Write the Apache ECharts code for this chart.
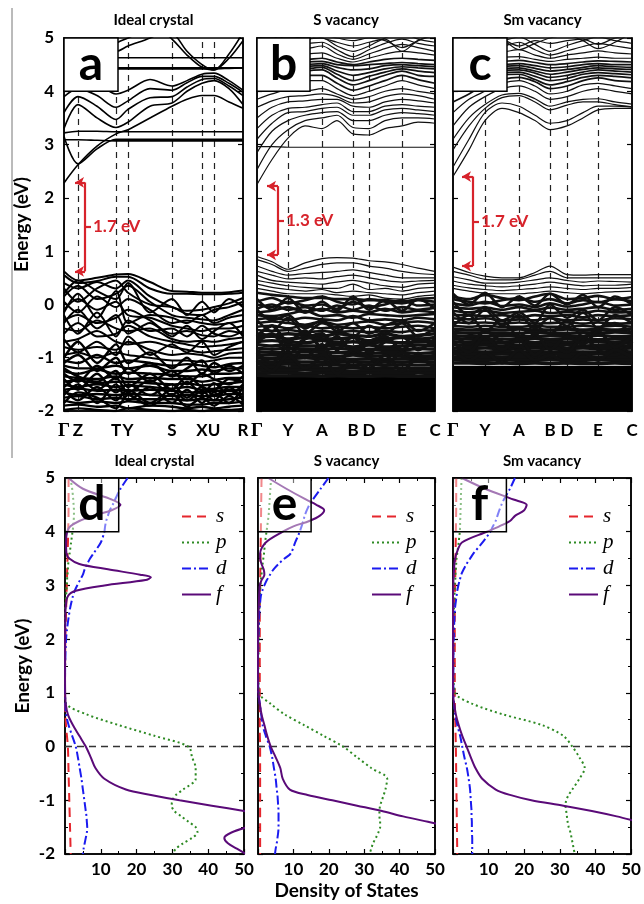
<!DOCTYPE html>
<html><head><meta charset="utf-8">
<script src="https://cdn.jsdelivr.net/npm/echarts@6/dist/echarts.min.js"></script>
<style>html,body{margin:0;padding:0;background:#fff}#c{width:644px;height:904px}</style>
</head><body><div id="c"></div>
<script>
// ---------------- band structure data ----------------
const KS_A = [0,14,33,52,64,86,108,123,138,150,165,179];
const KPOS_A = [0,14,52,64,108,138,150,179];
const KLAB_A = ['Γ','Z','T','Y','S','X','U','R'];
const KS_B = [0,15,31,48,65,80,96,112,128,145,161,178];
const KPOS_B = [0,31,65,96,112,145,178];
const KS_C = [0,16,32,49,66,82,97,114,130,145,162,179];
const KPOS_C = [0,32,66,97,114,145,179];
const KLAB_BC = ['Γ','Y','A','B','D','E','C'];

const CB_A = [
 [2.28,2.62,2.97,3.2,3.28,3.5,3.72,3.85,3.92,3.92,3.8,3.68],
 [3.15,2.64,2.92,3.1,3.1,3.1,3.1,3.1,3.1,3.1,3.1,3.1],
 [3.09,3.09,3.08,3.07,3.07,3.07,3.07,3.07,3.07,3.07,3.07,3.07],
 [3.22,3.25,3.25,3.24,3.24,3.24,3.24,3.24,3.24,3.24,3.24,3.24],
 [3.3,3.75,3.5,3.32,3.42,3.72,3.78,4.0,4.15,4.2,4.05,3.75],
 [3.6,3.9,3.72,3.47,3.66,3.88,3.9,4.08,4.22,4.24,4.1,3.92],
 [3.9,4.05,3.92,3.7,3.82,4.05,4.02,4.16,4.28,4.28,4.15,3.98],
 [4.05,4.25,4.15,3.95,4.02,4.22,4.1,4.2,4.32,4.34,4.2,4.02],
 [4.6,4.55,4.5,4.44,4.44,4.44,4.44,4.44,4.44,4.44,4.44,4.44],
 [4.7,4.6,4.52,4.42,4.42,4.42,4.42,4.42,4.42,4.42,4.43,4.44],
 [4.9,4.85,4.75,4.63,4.63,4.63,4.63,4.63,4.63,4.63,4.63,4.63],
 [5.3,5.2,5.1,5.05,5.1,5.15,5.1,4.75,4.5,4.4,4.62,4.95],
 [5.5,5.4,5.2,5.1,5.2,5.3,4.98,4.68,4.45,4.4,4.7,5.1],
 [4.5,4.7,4.82,4.75,4.85,5.0,5.2,5.3,5.2,5.2,5.3,5.4],
 [4.3,4.45,4.6,4.9,5.0,5.2,5.4,5.5,5.4,5.4,5.5,5.5]
];
const VB_A = [
 [0.62,0.45,0.5,0.56,0.57,0.42,0.25,0.24,0.22,0.22,0.23,0.26],
 [0.55,0.4,0.44,0.52,0.52,0.3,0.2,0.2,0.19,0.19,0.2,0.22],
 [0.4,0.3,0.42,0.3,0.45,0.15,-0.05,-0.12,-0.1,-0.05,0.02,0.12],
 [0.3,0.05,0.3,0.45,0.22,0.0,-0.05,-0.18,-0.2,-0.1,-0.05,0.05],
 [0.15,0.35,0.1,0.2,0.35,0.05,-0.2,-0.25,-0.28,-0.3,-0.2,-0.1],
 [0.05,-0.15,0.15,-0.05,0.1,-0.1,-0.35,-0.3,-0.35,-0.38,-0.35,-0.3],
 [-0.1,0.1,-0.1,0.05,-0.2,-0.25,-0.4,-0.45,-0.5,-0.45,-0.45,-0.4],
 [-0.3,-0.2,-0.35,-0.25,-0.1,-0.3,-0.55,-0.5,-0.58,-0.6,-0.5,-0.55],
 [-0.45,-0.5,-0.3,-0.45,-0.5,-0.45,-0.65,-0.7,-0.68,-0.7,-0.65,-0.62],
 [-0.55,-0.35,-0.6,-0.55,-0.4,-0.6,-0.7,-0.75,-0.8,-0.78,-0.75,-0.7],
 [-0.7,-0.65,-0.5,-0.7,-0.75,-0.7,-0.8,-0.85,-0.9,-0.88,-0.85,-0.82],
 [-0.8,-0.85,-0.8,-0.85,-0.7,-0.85,-0.95,-0.92,-0.95,-1.0,-0.92,-0.9],
 [-0.95,-0.9,-1.0,-0.9,-0.95,-1.0,-1.05,-1.05,-1.08,-1.05,-1.0,-1.0],
 [-1.05,-1.1,-0.95,-1.1,-1.05,-1.1,-1.15,-1.12,-1.15,-1.18,-1.12,-1.1],
 [-1.15,-1.2,-1.2,-1.15,-1.2,-1.15,-1.25,-1.25,-1.22,-1.25,-1.2,-1.2],
 [-1.25,-1.3,-1.22,-1.3,-1.28,-1.3,-1.32,-1.35,-1.35,-1.3,-1.3,-1.28],
 [-1.35,-1.38,-1.4,-1.35,-1.4,-1.38,-1.4,-1.4,-1.45,-1.42,-1.38,-1.38],
 [-1.45,-1.42,-1.48,-1.45,-1.45,-1.48,-1.5,-1.48,-1.52,-1.5,-1.48,-1.45],
 [-1.5,-1.55,-1.5,-1.55,-1.52,-1.55,-1.58,-1.55,-1.6,-1.58,-1.55,-1.55],
 [-1.6,-1.58,-1.62,-1.6,-1.62,-1.6,-1.62,-1.65,-1.65,-1.62,-1.62,-1.6],
 [-1.65,-1.7,-1.68,-1.7,-1.68,-1.7,-1.72,-1.7,-1.72,-1.72,-1.68,-1.68],
 [-1.75,-1.72,-1.78,-1.75,-1.78,-1.78,-1.78,-1.8,-1.78,-1.8,-1.78,-1.75],
 [-1.8,-1.85,-1.82,-1.85,-1.82,-1.85,-1.85,-1.88,-1.88,-1.85,-1.85,-1.82],
 [-1.9,-1.88,-1.92,-1.9,-1.95,-1.9,-1.92,-1.95,-1.92,-1.95,-1.92,-1.9],
 [-1.98,-1.95,-1.98,-2.0,-1.95,-1.98,-2.0,-1.98,-2.0,-1.98,-1.98,-1.96],
 [-0.2,-0.55,-0.15,-0.6,-0.3,-0.5,-0.45,-0.6,-0.4,-0.55,-0.6,-0.5],
 [-1.0,-0.7,-1.1,-0.75,-1.1,-0.9,-1.2,-1.0,-1.3,-1.1,-1.25,-1.15],
 [-1.4,-1.6,-1.3,-1.65,-1.5,-1.7,-1.5,-1.75,-1.55,-1.7,-1.6,-1.75],
 [-1.7,-1.5,-1.85,-1.5,-1.8,-1.55,-1.85,-1.6,-1.85,-1.65,-1.85,-1.55],
 [-0.35,-0.1,-0.45,-0.2,-0.55,-0.35,-0.6,-0.4,-0.65,-0.5,-0.35,-0.6],
 [-0.65,-0.9,-0.7,-0.95,-0.6,-0.95,-0.75,-0.9,-0.7,-0.95,-0.8,-0.7],
 [-1.1,-0.95,-1.25,-1.0,-1.3,-1.1,-1.35,-1.2,-1.05,-1.3,-1.15,-1.3],
 [-1.3,-1.45,-1.15,-1.4,-1.2,-1.45,-1.25,-1.5,-1.3,-1.4,-1.5,-1.35],
 [-1.55,-1.4,-1.6,-1.38,-1.65,-1.42,-1.7,-1.45,-1.68,-1.48,-1.7,-1.5],
 [-1.85,-1.65,-1.75,-1.95,-1.7,-1.9,-1.68,-1.92,-1.75,-1.9,-1.72,-1.88],
 [0.2,0.45,0.25,0.1,0.4,-0.15,0.1,-0.2,0.05,-0.15,0.1,-0.05],
 [-0.15,0.2,-0.25,0.25,-0.35,-0.2,-0.25,-0.35,-0.2,-0.35,-0.25,-0.2],
 [-1.2,-1.35,-1.45,-1.25,-1.55,-1.3,-1.6,-1.35,-1.55,-1.6,-1.4,-1.45],
 [-1.6,-1.8,-1.55,-1.8,-1.6,-1.85,-1.6,-1.8,-1.62,-1.8,-1.55,-1.8]
];
const CB_B = [
 [2.96,2.96,2.95,2.95,2.95,2.95,2.95,2.95,2.95,2.95,2.95,2.95],
 [2.25,2.72,3.12,3.35,3.3,3.45,3.2,3.18,3.3,3.35,3.42,3.4],
 [2.53,3.0,3.28,3.45,3.5,3.55,3.32,3.3,3.45,3.5,3.5,3.48],
 [2.85,3.25,3.45,3.55,3.6,3.62,3.45,3.45,3.55,3.6,3.58,3.55],
 [3.1,3.4,3.6,3.62,3.68,3.7,3.55,3.55,3.65,3.68,3.65,3.62],
 [3.3,3.55,3.68,3.7,3.75,3.78,3.62,3.62,3.72,3.75,3.72,3.7],
 [3.5,3.7,3.8,3.82,3.85,3.85,3.72,3.7,3.8,3.85,3.82,3.78],
 [3.7,3.82,3.9,3.92,3.95,3.9,3.78,3.8,3.9,3.95,3.92,3.85],
 [3.85,3.95,4.02,4.0,4.05,3.95,3.85,3.9,4.0,4.05,4.0,3.95],
 [4.0,4.05,4.15,4.2,4.2,4.05,3.92,4.0,4.1,4.2,4.12,4.05],
 [4.1,4.15,4.25,4.3,4.3,4.15,4.02,4.1,4.2,4.3,4.22,4.15],
 [4.22,4.28,4.32,4.38,4.4,4.25,4.12,4.2,4.3,4.38,4.3,4.28],
 [4.3,4.35,4.38,4.42,4.45,4.32,4.2,4.28,4.36,4.42,4.38,4.35],
 [4.35,4.4,4.42,4.46,4.48,4.38,4.3,4.35,4.42,4.46,4.44,4.42],
 [4.4,4.45,4.48,4.5,4.52,4.45,4.4,4.42,4.48,4.5,4.48,4.46],
 [4.48,4.5,4.52,4.55,4.56,4.5,4.48,4.5,4.52,4.54,4.52,4.5],
 [4.55,4.6,4.62,4.6,4.62,4.55,4.5,4.55,4.6,4.62,4.6,4.58],
 [4.62,4.65,4.75,4.7,4.72,4.62,4.55,4.62,4.7,4.75,4.72,4.68],
 [4.7,4.75,4.85,4.8,4.85,4.7,4.6,4.7,4.8,4.88,4.82,4.75],
 [4.8,4.85,4.95,4.9,4.92,4.78,4.65,4.78,4.9,4.98,4.9,4.85],
 [4.9,4.92,5.05,4.98,5.0,4.85,4.75,4.85,5.0,5.1,4.98,4.92],
 [5.0,5.05,5.1,5.05,5.0,4.92,4.85,4.92,4.98,4.75,4.95,5.05],
 [5.1,5.05,4.88,4.95,5.05,5.0,4.95,5.0,4.95,4.82,4.95,5.1]
];
const VB_B = [
 [0.9,0.8,0.66,0.78,0.86,0.88,0.87,0.82,0.8,0.75,0.68,0.62],
 [0.84,0.75,0.62,0.68,0.75,0.78,0.78,0.72,0.68,0.62,0.58,0.56],
 [0.72,0.62,0.55,0.58,0.6,0.62,0.65,0.6,0.55,0.5,0.5,0.5],
 [0.62,0.55,0.48,0.5,0.48,0.52,0.55,0.5,0.45,0.42,0.44,0.45],
 [0.55,0.45,0.42,0.4,0.38,0.42,0.45,0.4,0.35,0.32,0.38,0.4],
 [0.45,0.4,0.35,0.32,0.3,0.3,0.38,0.28,0.3,0.25,0.3,0.32],
 [0.38,0.32,0.28,0.25,0.28,0.22,0.25,0.22,0.2,0.18,0.22,0.25],
 [0.3,0.25,0.2,0.2,0.2,0.18,0.15,0.18,0.12,0.1,0.15,0.18],
 [0.22,0.18,0.15,0.12,0.12,0.1,0.1,0.08,0.08,0.05,0.1,0.12],
 [0.05,0.12,0.02,0.08,0.15,0.05,0.0,0.1,0.05,0.02,0.08,0.05],
 [0.0,-0.05,0.05,-0.02,0.0,-0.08,0.05,-0.05,0.0,0.08,-0.02,0.0],
 [-0.08,0.0,-0.1,-0.05,-0.12,-0.02,-0.1,-0.02,-0.12,-0.05,-0.1,-0.06],
 [-0.15,-0.12,-0.05,-0.15,-0.08,-0.15,-0.12,-0.15,-0.08,-0.15,-0.12,-0.15],
 [-0.2,-0.22,-0.18,-0.12,-0.22,-0.2,-0.25,-0.18,-0.2,-0.22,-0.2,-0.18],
 [-0.28,-0.25,-0.3,-0.25,-0.28,-0.3,-0.22,-0.3,-0.28,-0.3,-0.25,-0.28],
 [-0.35,-0.32,-0.35,-0.38,-0.32,-0.38,-0.35,-0.32,-0.38,-0.35,-0.32,-0.35],
 [-0.42,-0.4,-0.45,-0.4,-0.45,-0.42,-0.45,-0.42,-0.45,-0.42,-0.4,-0.45],
 [-0.48,-0.5,-0.48,-0.52,-0.5,-0.52,-0.5,-0.52,-0.5,-0.52,-0.48,-0.5],
 [-0.55,-0.58,-0.55,-0.58,-0.6,-0.55,-0.58,-0.6,-0.55,-0.6,-0.58,-0.55],
 [-0.62,-0.6,-0.65,-0.62,-0.65,-0.65,-0.62,-0.68,-0.65,-0.62,-0.65,-0.62],
 [-0.7,-0.68,-0.7,-0.72,-0.68,-0.72,-0.7,-0.72,-0.7,-0.72,-0.7,-0.7],
 [-0.75,-0.78,-0.75,-0.78,-0.78,-0.76,-0.8,-0.76,-0.8,-0.78,-0.76,-0.78],
 [-0.82,-0.84,-0.82,-0.84,-0.85,-0.82,-0.85,-0.84,-0.84,-0.85,-0.83,-0.84],
 [-0.88,-0.9,-0.9,-0.88,-0.9,-0.9,-0.9,-0.92,-0.9,-0.9,-0.92,-0.9],
 [-0.95,-0.95,-0.96,-0.95,-0.96,-0.97,-0.95,-0.97,-0.96,-0.96,-0.97,-0.96],
 [-1.0,-1.02,-1.02,-1.0,-1.02,-1.02,-1.03,-1.02,-1.03,-1.02,-1.02,-1.02],
 [-1.06,-1.08,-1.07,-1.08,-1.08,-1.07,-1.08,-1.08,-1.08,-1.08,-1.07,-1.08],
 [-1.12,-1.13,-1.12,-1.14,-1.13,-1.13,-1.14,-1.13,-1.14,-1.13,-1.14,-1.13],
 [-1.18,-1.18,-1.19,-1.18,-1.19,-1.19,-1.18,-1.2,-1.19,-1.19,-1.2,-1.19],
 [-1.23,-1.24,-1.24,-1.23,-1.24,-1.24,-1.25,-1.24,-1.24,-1.25,-1.24,-1.24],
 [-1.28,-1.29,-1.29,-1.3,-1.29,-1.3,-1.3,-1.29,-1.3,-1.3,-1.29,-1.3],
 [-1.33,-1.34,-1.34,-1.34,-1.35,-1.34,-1.35,-1.35,-1.34,-1.35,-1.35,-1.35],
 [-0.1,-0.3,-0.2,-0.45,-0.3,-0.5,-0.35,-0.55,-0.4,-0.3,-0.5,-0.35],
 [-0.6,-0.4,-0.7,-0.5,-0.8,-0.6,-0.9,-0.7,-0.6,-0.85,-0.65,-0.75],
 [-0.9,-1.1,-0.8,-1.0,-0.75,-1.1,-0.85,-1.0,-1.15,-0.9,-1.05,-0.95],
 [0.1,-0.1,0.12,-0.15,0.05,-0.12,0.15,-0.1,0.08,-0.12,0.1,-0.08],
 [-0.3,-0.5,-0.25,-0.55,-0.35,-0.45,-0.6,-0.4,-0.55,-0.35,-0.6,-0.45],
 [-0.7,-0.55,-0.85,-0.65,-0.55,-0.85,-0.6,-0.9,-0.7,-0.6,-0.85,-0.65],
 [-1.05,-1.25,-0.95,-1.2,-1.0,-1.3,-1.05,-1.2,-0.95,-1.25,-1.0,-1.2]
];
const CB_C = [
 [2.4,2.9,3.45,3.68,3.6,3.45,3.28,3.35,3.5,3.65,3.68,3.68],
 [2.58,3.1,3.6,3.78,3.72,3.55,3.4,3.45,3.6,3.72,3.72,3.7],
 [2.9,3.35,3.68,3.88,3.92,3.8,3.65,3.74,3.8,3.8,3.75,3.71],
 [3.1,3.5,3.75,3.93,3.96,3.86,3.72,3.8,3.85,3.86,3.8,3.76],
 [3.35,3.7,3.9,4.05,4.1,4.0,3.85,3.9,4.0,4.05,4.0,3.95],
 [3.6,3.85,4.0,4.15,4.2,4.1,3.95,4.0,4.12,4.15,4.1,4.05],
 [3.8,3.95,4.12,4.22,4.26,4.18,4.05,4.1,4.2,4.25,4.2,4.18],
 [4.05,4.1,4.2,4.3,4.32,4.22,4.12,4.18,4.26,4.3,4.28,4.25],
 [4.15,4.18,4.26,4.34,4.36,4.28,4.2,4.24,4.32,4.35,4.33,4.31],
 [4.22,4.26,4.3,4.38,4.4,4.34,4.26,4.3,4.36,4.4,4.38,4.36],
 [4.3,4.32,4.36,4.42,4.44,4.38,4.32,4.36,4.41,4.44,4.42,4.41],
 [4.36,4.38,4.42,4.46,4.48,4.43,4.38,4.41,4.45,4.48,4.46,4.45],
 [4.42,4.45,4.48,4.5,4.52,4.48,4.44,4.46,4.5,4.52,4.5,4.5],
 [4.5,4.52,4.55,4.56,4.58,4.54,4.5,4.52,4.55,4.57,4.56,4.55],
 [4.58,4.6,4.65,4.64,4.65,4.6,4.56,4.6,4.62,4.64,4.62,4.62],
 [4.66,4.7,4.76,4.74,4.78,4.68,4.62,4.68,4.72,4.76,4.72,4.7],
 [4.75,4.8,4.88,4.85,4.92,4.78,4.68,4.76,4.84,4.9,4.85,4.8],
 [4.85,4.9,4.98,4.95,5.02,4.88,4.75,4.86,4.95,5.02,4.95,4.9],
 [4.95,4.98,5.05,4.98,4.85,4.95,4.9,4.95,4.98,4.88,5.0,5.05],
 [5.05,5.0,4.92,4.95,4.78,4.9,5.0,5.05,4.95,4.8,4.92,5.1]
];
const VB_C = [
 [0.7,0.6,0.53,0.5,0.5,0.6,0.72,0.56,0.55,0.56,0.56,0.56],
 [0.62,0.55,0.47,0.46,0.47,0.55,0.62,0.5,0.5,0.5,0.5,0.5],
 [0.52,0.46,0.4,0.4,0.42,0.46,0.5,0.45,0.42,0.44,0.43,0.42],
 [0.44,0.38,0.35,0.33,0.35,0.38,0.42,0.38,0.35,0.36,0.36,0.38],
 [0.36,0.31,0.28,0.26,0.28,0.3,0.33,0.3,0.28,0.3,0.3,0.32],
 [0.3,0.25,0.21,0.2,0.2,0.22,0.25,0.22,0.2,0.22,0.24,0.25],
 [0.15,0.1,0.18,0.12,0.08,0.15,0.2,0.1,0.12,0.16,0.1,0.14],
 [0.1,0.05,0.02,0.08,0.12,0.05,0.1,0.02,0.08,0.04,0.1,0.06],
 [0.02,-0.02,0.05,-0.03,0.0,-0.05,0.02,-0.04,0.0,0.05,-0.02,0.0],
 [-0.05,-0.08,-0.06,-0.1,-0.05,-0.1,-0.06,-0.1,-0.08,-0.05,-0.1,-0.08],
 [-0.12,-0.15,-0.12,-0.16,-0.14,-0.12,-0.16,-0.14,-0.16,-0.12,-0.15,-0.14],
 [-0.2,-0.2,-0.22,-0.2,-0.24,-0.2,-0.22,-0.2,-0.24,-0.2,-0.22,-0.2],
 [-0.26,-0.28,-0.26,-0.3,-0.28,-0.3,-0.26,-0.3,-0.28,-0.3,-0.26,-0.28],
 [-0.33,-0.35,-0.34,-0.36,-0.34,-0.36,-0.35,-0.34,-0.36,-0.34,-0.36,-0.35],
 [-0.4,-0.42,-0.4,-0.42,-0.42,-0.4,-0.42,-0.42,-0.4,-0.42,-0.4,-0.42],
 [-0.46,-0.48,-0.47,-0.48,-0.46,-0.48,-0.48,-0.46,-0.48,-0.47,-0.48,-0.46],
 [-0.52,-0.54,-0.53,-0.54,-0.54,-0.52,-0.54,-0.54,-0.53,-0.54,-0.52,-0.54],
 [-0.58,-0.6,-0.6,-0.58,-0.6,-0.6,-0.59,-0.6,-0.6,-0.58,-0.6,-0.6],
 [-0.64,-0.65,-0.66,-0.65,-0.66,-0.64,-0.66,-0.65,-0.66,-0.66,-0.65,-0.66],
 [-0.7,-0.71,-0.71,-0.72,-0.7,-0.72,-0.71,-0.72,-0.71,-0.7,-0.72,-0.71],
 [-0.76,-0.77,-0.76,-0.78,-0.77,-0.77,-0.78,-0.76,-0.78,-0.77,-0.77,-0.78],
 [-0.82,-0.83,-0.82,-0.83,-0.83,-0.82,-0.83,-0.83,-0.82,-0.83,-0.83,-0.82],
 [-0.88,-0.88,-0.89,-0.88,-0.89,-0.88,-0.89,-0.88,-0.89,-0.89,-0.88,-0.89],
 [-0.93,-0.94,-0.94,-0.93,-0.94,-0.94,-0.93,-0.94,-0.94,-0.93,-0.94,-0.94],
 [-0.99,-0.99,-1.0,-0.99,-1.0,-0.99,-1.0,-1.0,-0.99,-1.0,-0.99,-1.0],
 [-1.04,-1.05,-1.05,-1.04,-1.05,-1.05,-1.04,-1.05,-1.05,-1.04,-1.05,-1.05],
 [-1.1,-1.1,-1.11,-1.1,-1.11,-1.1,-1.11,-1.1,-1.11,-1.11,-1.1,-1.11],
 [0.05,-0.2,-0.05,-0.3,-0.15,-0.35,0.0,-0.25,-0.1,-0.3,-0.05,-0.2],
 [-0.4,-0.2,-0.5,-0.3,-0.6,-0.4,-0.55,-0.3,-0.6,-0.45,-0.35,-0.55],
 [-0.7,-0.9,-0.6,-0.85,-0.65,-0.95,-0.75,-0.9,-0.6,-0.85,-0.95,-0.7],
 [0.2,0.0,0.22,-0.05,0.15,-0.02,0.2,0.0,0.18,-0.05,0.15,0.0],
 [-0.15,-0.35,-0.1,-0.4,-0.2,-0.45,-0.25,-0.4,-0.15,-0.45,-0.2,-0.35],
 [-0.55,-0.75,-0.5,-0.7,-0.8,-0.55,-0.85,-0.6,-0.75,-0.5,-0.8,-0.6],
 [-0.85,-1.05,-0.9,-1.1,-0.85,-1.05,-0.95,-1.1,-0.9,-1.05,-0.85,-1.0]
];
// band gaps: [CBM, VBM] and labels
const GAP_A = [2.29, 0.62], GAP_B = [2.22, 0.93], GAP_C = [2.40, 0.72];
const GAP_LABELS = ['1.7 eV', '1.3 eV', '1.7 eV'];
// fully filled (unresolvable) band region
const SOLID_B = [-2.0, -1.36], SOLID_C = [-2.0, -1.15];

// ---------------- DOS data ----------------
const E_GRID = [5,4.8,4.6,4.5,4.4,4.3,4.2,4.1,4.0,3.8,3.6,3.5,3.4,3.3,3.2,3.15,3.1,3.0,2.9,2.8,2.6,2.4,2.2,2.0,1.5,1.0,0.8,0.6,0.4,0.2,0,-0.2,-0.4,-0.6,-0.8,-0.9,-1.0,-1.1,-1.2,-1.3,-1.4,-1.5,-1.6,-1.7,-1.8,-1.9,-2.0];
const S_GRID = [5,4.5,4,3.5,3,2.5,2,1,0.6,0.3,0,-0.5,-1,-1.5,-2];
const D_S = [1.0,1.0,0.9,0.7,0.5,0.3,0.1,0,0.1,0.4,0.8,1.0,1.2,1.4,1.6];
const D_P = [1.5,2.0,2.3,2.4,2.5,2.5,2.4,2.3,2.1, 1.7,1.3,1.1,0.9,0.8,0.7,0.6,0.6,0.5, 0.4,0.3,0.1,0.05,0,0, 0,0,0.3,6,15,25,34.5, 35.5,36.5,36.5,33,31,30, 29.8,30.5,32.5,34.5,36.5,37,35.5,33,31,30];
const D_D = [17.5,15.5,14,13.3,12.5,12,11.5,11.2,11, 10,8,7,6.2,5.5,5,4.6,4.2,3.4, 2.7,2.2,1.5,1.0,0.6,0.3, 0.05,0,0.1,0.3,1.0,2.0,3.0, 3.6,4.1,4.6,5.0,5.2,5.4, 5.6,5.8,6.0,6.1,6.2,6.1,5.8,5.5,5.2,5.0];
const D_F = [1.0,5,13,15.5,13,8,4,1.5,0.6, 0.3,0.4,1.2,4,12,21,24,22.5,11, 3,0.8,0.2,0.1,0.05,0, 0,0.05,0.2,0.8,2.2,4,5.8, 7.2,8.5,11,17,24,32, 41,50,58,57,51,46.5,44.5,45.5,48,50.5];
const E_S = [1.0,0.9,0.8,0.7,0.6,0.5,0.5,0.5,0.5,0.5,0.6,0.6,0.6,0.6,0.6];
const E_P = [3.7,3.5,3.3,3.2,3.1,3.0,2.8,2.6,2.4, 2.0,1.7,1.5,1.3,1.1,1.0,0.9,0.8,0.7, 0.6,0.5,0.4,0.3,0.3,0.2, 0.1,0.3,3.5,7.5,13,18.5,24, 28,32,36.5,36,35.5,35, 34.5,34.3,34.3,34.5,34.5,34,33.3,32.5,32,31.5];
const E_D = [19.9,17.7,15.5,14.5,13.8,13.2,12.8,12.3,11.8, 10.5,9.3,7.5,5.8,4.4,3.4,3.0,2.5,1.8, 1.2,0.8,0.5,0.3,0.2,0.1, 0,0.1,0.5,0.9,1.3,2.2,3.3, 4.0,4.5,5.0,5.3,5.5,5.6, 5.7,5.8,5.8,5.8,5.8,5.7,5.5,5.3,5.0,4.8];
const E_F = [2.9,8,13.5,16.5,18.7,17.5,14.5,10,7, 2.2,0.6,0.6,1.0,1.6,1.8,1.5,1.0,0.5, 0.4,0.3,0.2,0.1,0.05,0, 0,0.1,0.5,1.0,1.8,2.6,3.6, 5.0,6.3,7.0,9,14,21, 28,35,41,48,55,60,62,64,66,68];
const F_S = [0.9,0.9,0.8,0.7,0.6,0.5,0.5,0.5,0.6,0.7,0.8,0.9,1.0,1.1,1.2];
const F_P = [2.4,2.3,2.2,2.2,2.1,2.1,2.0,2.0,1.9, 1.6,1.2,1.0,0.9,0.8,0.7,0.7,0.6,0.5, 0.5,0.4,0.3,0.2,0.2,0.1, 0.1,0.6,5.3,14,25,31,33.5, 35.5,37,35.5,33.5,32.5,31.8, 31.6,31.8,32,32.2,32.5,33,33.3,33.6,33.9,34.2];
const F_D = [17.4,16,14.3,13.6,13,12.5,12,11.2,10.5, 8.3,5.8,4.8,3.8,3.0,2.3,2.1,1.9,1.5, 1.2,1.0,0.6,0.4,0.3,0.2, 0.1,0.1,0.3,0.6,1.2,2.0,2.6, 3.2,3.9,4.4,4.8,4.9,5.0, 5.1,5.2,5.2,5.3,5.3,5.3,5.4,5.4,5.4,5.4];
const F_F = [2.5,9,17,20.7,20,17.5,16,13,9.5, 2.5,1.0,0.6,0.4,0.3,0.2,0.2,0.1,0.1, 0.05,0,0,0,0,0, 0,0,0.3,0.8,1.6,2.6,3.8, 5.0,6.3,8.2,12,16,22, 31,39,46,52,58,62,64,66,68,70];
const ORBITALS = ['s','p','d','f'];
const TITLES = ['Ideal crystal','S vacancy','Sm vacancy'];

// ---------------- build chart ----------------
const FONT = 'Lato, "Open Sans", "DejaVu Sans", sans-serif';
const RED = '#d7232b';
const ORB_STYLE = {
  s:{color:'#e5262d', type:[9,6], width:2},
  p:{color:'#2d8a23', type:[2,3], width:2},
  d:{color:'#1b1bf0', type:[9,3,2,3], width:2},
  f:{color:'#5a0a78', type:'solid', width:2}
};
const option = {animation:false, backgroundColor:'#fff', grid:[], xAxis:[], yAxis:[], series:[], legend:[], graphic:[]};
const boldLbl = {fontFamily:FONT, fontWeight:'bold', fontSize:16, color:'#000'};
const meanOf = a => a.reduce((s, v) => s + v, 0) / a.length;

function yAxisPair(gi, showLabel, minor) {
  const base = {gridIndex:gi, type:'value', min:-2, max:5, interval:1, splitLine:{show:false},
    axisLine:{show:true, onZero:false, lineStyle:{color:'#000', width:1.5}},
    axisTick:{show:true, inside:true, length:5, lineStyle:{color:'#000', width:1.2}},
    minorTick:{show:minor, splitNumber:2, length:3, lineStyle:{color:'#000', width:1}}};
  const left = Object.assign({}, base, {position:'left',
    axisLabel:{show:showLabel, margin:10, ...boldLbl, fontSize:17},
    name: showLabel ? 'Energy (eV)' : '', nameLocation:'middle', nameGap:33,
    nameTextStyle:{fontFamily:FONT, fontWeight:'bold', fontSize:19, color:'#000'}});
  const right = Object.assign({}, base, {position:'right', axisLabel:{show:false}});
  const yi = option.yAxis.length;
  option.yAxis.push(left, right);
  return yi;
}

const bandPanels = [
  {left:64, width:179, kmax:179, ks:KS_A, kpos:KPOS_A, klab:KLAB_A, bands:[...CB_A, ...VB_A], color:'#000',
   lw:m => m < -1.0 ? 2.4 : (m < 0.7 ? 2.0 : 1.6), showY:true, gap:GAP_A, bx:21, btip:11, letter:'a', boxK:54},
  {left:257, width:178, kmax:178, ks:KS_B, kpos:KPOS_B, klab:KLAB_BC, bands:[...CB_B, ...VB_B], color:'#111',
   lw:m => m < -0.55 ? 3.4 : (m < 0.15 ? 2.6 : (m > 4.1 && m < 4.6 ? 1.7 : 1.2)), showY:false, gap:GAP_B, bx:21, btip:10, letter:'b', boxK:53, solid:SOLID_B},
  {left:453, width:179, kmax:179, ks:KS_C, kpos:KPOS_C, klab:KLAB_BC, bands:[...CB_C, ...VB_C], color:'#111',
   lw:m => m < -0.45 ? 3.4 : (m < 0.2 ? 2.6 : (m > 4.1 && m < 4.6 ? 1.7 : 1.2)), showY:false, gap:GAP_C, bx:20, btip:9, letter:'c', boxK:54, solid:SOLID_C}
];

bandPanels.forEach((p, idx) => {
  const gi = option.grid.length;
  option.grid.push({left:p.left, top:38, width:p.width, height:373, show:true, borderColor:'#000', borderWidth:1.5, backgroundColor:'rgba(0,0,0,0)'});
  const xi = option.xAxis.length;
  option.xAxis.push({gridIndex:gi, type:'value', min:0, max:p.kmax, splitLine:{show:false},
    axisLine:{show:true, onZero:false, lineStyle:{color:'#000', width:1.5}}, axisTick:{show:false},
    axisLabel:{customValues:p.kpos, margin:11, fontFamily:FONT, fontWeight:'bold', fontSize:17, color:'#000',
      formatter:v => { const t = p.klab[p.kpos.indexOf(v)] || ''; return t === 'Γ' ? '{g|Γ}' : t; },
      rich:{g:{fontFamily:'"Liberation Serif", serif', fontSize:19, color:'#000'}}}});
  const yi = yAxisPair(gi, p.showY, false);
  option.series.push({type:'line', xAxisIndex:xi, yAxisIndex:yi, data:[], silent:true,
    markLine:{silent:true, z:1, symbol:['none','none'], label:{show:false}, animation:false,
      lineStyle:{color:'#222', type:[6,5], width:1.2},
      data:p.kpos.slice(1, -1).map(k => ({xAxis:k}))}});
  if (p.solid) {
    option.series.push({type:'line', xAxisIndex:xi, yAxisIndex:yi, data:[], silent:true,
      markArea:{silent:true, z:2, itemStyle:{color:'#000', opacity:1}, label:{show:false},
        data:[[{yAxis:p.solid[0]}, {yAxis:p.solid[1]}]]}});
  }
  p.bands.forEach(b => option.series.push({type:'line', xAxisIndex:xi, yAxisIndex:yi, silent:true,
    data:p.ks.map((k, i) => [k, b[i]]), symbol:'none', smooth:0.3, z:3,
    lineStyle:{color:p.color, width:p.lw(meanOf(b))}}));
  const [top, bot] = p.gap, mid = (top + bot) / 2;
  option.series.push({type:'line', xAxisIndex:xi, yAxisIndex:yi, data:[], silent:true,
    markLine:{silent:true, z:8, symbol:['none','none'], symbolSize:9, animation:false,
      lineStyle:{color:RED, width:2.2, type:'solid'}, label:{show:false},
      data:[
        [{coord:[p.bx, top]}, {coord:[p.bx, bot]}],
        [{coord:[p.bx, top]}, {coord:[p.btip, top], symbol:'arrow', symbolSize:[8,9]}],
        [{coord:[p.bx, bot]}, {coord:[p.btip, bot], symbol:'arrow', symbolSize:[8,9]}],
        [{coord:[p.bx, mid]}, {coord:[p.bx + 6, mid], label:{show:true, position:'end', distance:2,
          formatter:GAP_LABELS[idx], color:RED, fontFamily:FONT, fontWeight:'bold', fontSize:17}}]
      ]}});
  option.series.push({type:'line', xAxisIndex:xi, yAxisIndex:yi, data:[], silent:true,
    markArea:{silent:true, z:10, itemStyle:{color:'#fff', borderColor:'#000', borderWidth:1.5, opacity:1},
      label:{show:true, position:'inside', color:'#000', fontFamily:FONT, fontWeight:'bold', fontSize:48},
      data:[[{name:p.letter, coord:[0, 5]}, {coord:[p.boxK, 4]}]]}});
  option.graphic.push({type:'text', x:p.left + p.width / 2, y:20, style:{text:TITLES[idx], align:'center', verticalAlign:'middle', font:'bold 15px ' + FONT, fill:'#000'}});
});

const dosPanels = [
  {left:65, width:179, S:D_S, P:D_P, D:D_D, F:D_F, letter:'d', showY:true, legendLeft:176},
  {left:258, width:177, S:E_S, P:E_P, D:E_D, F:E_F, letter:'e', showY:false, legendLeft:366, xname:'Density of States'},
  {left:453, width:178, S:F_S, P:F_P, D:F_D, F:F_F, letter:'f', showY:false, legendLeft:563}
];
dosPanels.forEach((p, idx) => {
  const gi = option.grid.length;
  option.grid.push({left:p.left, top:478, width:p.width, height:376, show:true, borderColor:'#000', borderWidth:1.5, backgroundColor:'rgba(0,0,0,0)'});
  const xi = option.xAxis.length;
  const xbase = {gridIndex:gi, type:'value', min:0, max:50, interval:10, splitLine:{show:false},
    axisLine:{show:true, onZero:false, lineStyle:{color:'#000', width:1.5}},
    axisTick:{show:true, inside:true, length:5, lineStyle:{color:'#000', width:1.2}},
    minorTick:{show:true, splitNumber:2, length:3, lineStyle:{color:'#000', width:1}}};
  option.xAxis.push(Object.assign({}, xbase, {position:'bottom', axisLabel:{showMinLabel:false, margin:7, ...boldLbl, fontSize:17},
    name:p.xname || '', nameLocation:'middle', nameGap:27,
    nameTextStyle:{fontFamily:FONT, fontWeight:'bold', fontSize:19, color:'#000'}}));
  option.xAxis.push(Object.assign({}, xbase, {position:'top', axisLabel:{show:false}}));
  const yi = yAxisPair(gi, p.showY, true);
  option.series.push({type:'line', xAxisIndex:xi, yAxisIndex:yi, data:[], silent:true,
    markLine:{silent:true, z:2, symbol:['none','none'], label:{show:false}, animation:false,
      lineStyle:{color:'#333', type:[7,5], width:1.3}, data:[{yAxis:0}]}});
  const vals = {s:p.S, p:p.P, d:p.D, f:p.F};
  ORBITALS.forEach(o => {
    const grid = o === 's' ? S_GRID : E_GRID;
    option.series.push({type:'line', name:o, xAxisIndex:xi, yAxisIndex:yi, silent:true,
      data:grid.map((e, i) => [vals[o][i], e]), symbol:'none', smooth:0.3, z:4,
      itemStyle:{color:ORB_STYLE[o].color},
      lineStyle:Object.assign({}, ORB_STYLE[o])});
  });
  option.series.push({type:'line', xAxisIndex:xi, yAxisIndex:yi, data:[], silent:true,
    markArea:{silent:true, z:10, itemStyle:{color:'rgba(255,255,255,0.45)', borderColor:'#000', borderWidth:1.5, opacity:1},
      label:{show:true, position:'inside', color:'#000', fontFamily:FONT, fontWeight:'bold', fontSize:48},
      data:[[{name:p.letter, coord:[0, 5]}, {coord:[15, 4]}]]}});
  option.legend.push({left:p.legendLeft, top:501, orient:'vertical', itemWidth:29, itemHeight:12, itemGap:5,
    selectedMode:false, data:ORBITALS, lineStyle:{width:2}, itemStyle:{opacity:0},
    textStyle:{fontFamily:'"Liberation Serif", serif', fontStyle:'italic', fontSize:21, color:'#000'}});
  option.graphic.push({type:'text', x:p.left + p.width / 2, y:461, style:{text:TITLES[idx], align:'center', verticalAlign:'middle', font:'bold 15px ' + FONT, fill:'#000'}});
});
option.graphic.push({type:'line', shape:{x1:12, y1:8, x2:12, y2:458}, style:{stroke:'#777', lineWidth:1}});

const chart = echarts.init(document.getElementById('c'), null, {renderer:'canvas'});
chart.setOption(option);
</script></body></html>
